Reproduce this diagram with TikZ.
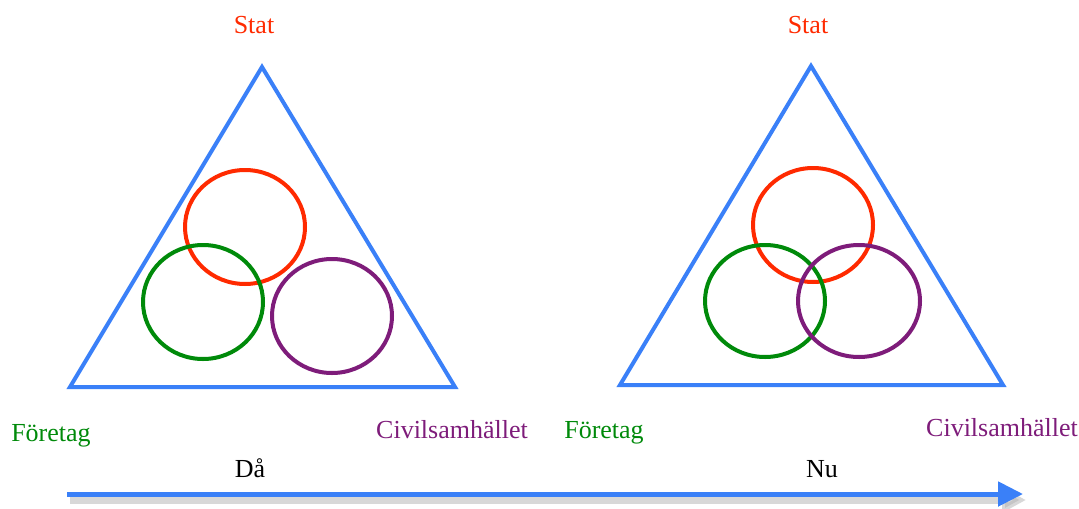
\documentclass[tikz,border=0pt]{standalone}
\usepackage{fontspec}
\setmainfont{Liberation Serif}
\usetikzlibrary{arrows.meta,positioning}
\definecolor{sideblue}{HTML}{3A80F8}
\definecolor{statred}{HTML}{FF2A00}
\definecolor{ftgreen}{HTML}{008A0A}
\definecolor{civpurple}{HTML}{7E1C7A}

\tikzset{
  side/.style={draw=sideblue, line width=2pt, line join=miter},
  ring/.style={line width=2pt},
  lbl/.style={anchor=base, font=\fontsize{13}{15}\selectfont}
}

\begin{document}
\begin{tikzpicture}[x=0.5pt, y=-0.5pt]
  \useasboundingbox (0,0) rectangle (1079,508);

  % then
  \coordinate (topA) at (262,67);
  \coordinate (leftA) at (70,387);
  \coordinate (rightA) at (455,387);
  \draw[side] (topA) -- (leftA) -- (rightA) -- cycle;
  \draw[ring, statred] (245,227) ellipse [x radius=60, y radius=57];
  \draw[ring, ftgreen] (203,302) ellipse [x radius=60, y radius=57];
  \draw[ring, civpurple] (332,316) ellipse [x radius=60, y radius=57];
  \node[lbl, text=statred] (statA) at (254,34) {Stat};
  \node[lbl, text=ftgreen] (ftgA) at (51,441) {Företag};
  \node[lbl, text=civpurple] (civA) at (452,438) {Civilsamhället};
  \node[lbl] (then) at (250,477) {Då};

  % now
  \coordinate (topB) at (811,66);
  \coordinate (leftB) at (620,385);
  \coordinate (rightB) at (1003,385);
  \draw[side] (topB) -- (leftB) -- (rightB) -- cycle;
  \draw[ring, statred] (813,225) ellipse [x radius=60, y radius=57];
  \draw[ring, ftgreen] (765,301) ellipse [x radius=60, y radius=56];
  \draw[ring, civpurple] (859,301) ellipse [x radius=61, y radius=56];
  \node[lbl, text=statred] (statB) at (808,34) {Stat};
  \node[lbl, text=ftgreen] (ftgB) at (604,438) {Företag};
  \node[lbl, text=civpurple] (civB) at (1002,436) {Civilsamhället};
  \node[lbl] (now) at (822,477) {Nu};

  % time line
  \coordinate (tStart) at (67,494);
  \coordinate (tEnd) at (1023,494);
  \draw[black!30, opacity=0.5, line width=3.5pt, -{Triangle[length=12pt,width=12pt]}]
    ([shift={(3,6)}]tStart) -- ([shift={(3,6)}]tEnd);
  \draw[sideblue, line width=2.5pt, -{Triangle[length=12.5pt,width=12pt]}] (tStart) -- (tEnd);
\end{tikzpicture}
\end{document}
